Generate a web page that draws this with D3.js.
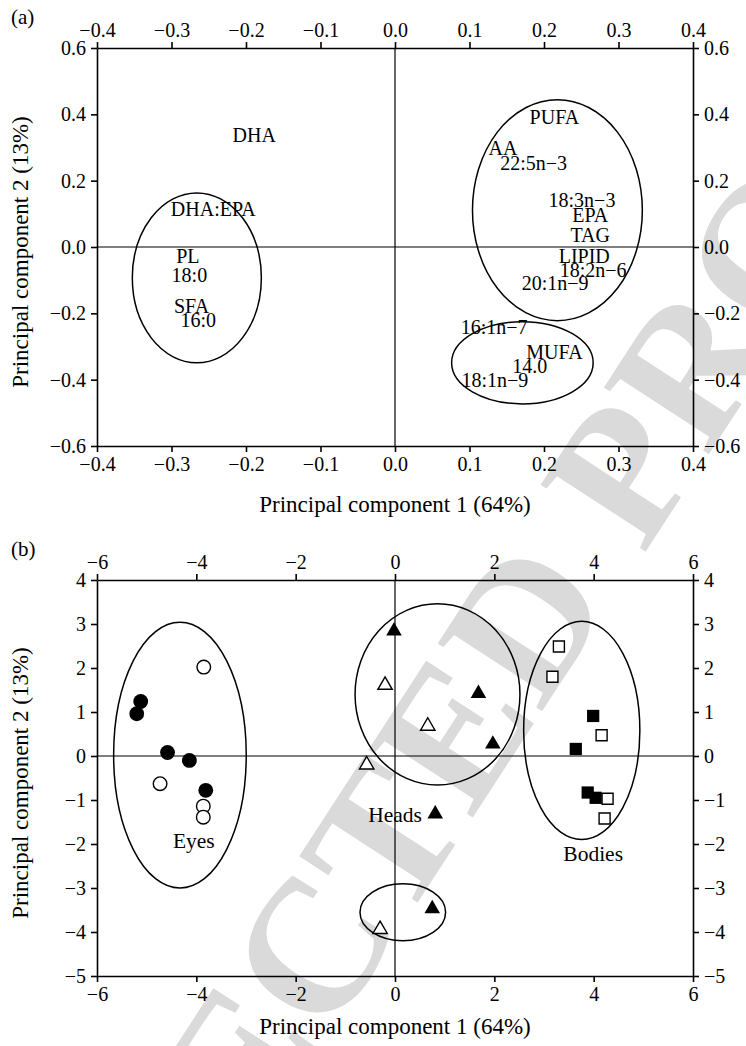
<!DOCTYPE html>
<html>
<head>
<meta charset="utf-8">
<script src="https://cdn.jsdelivr.net/npm/d3@7"></script>
<style>
  body { margin: 0; background: #fff; }
  text { font-family: "Liberation Serif", "Times New Roman", serif; }
</style>
</head>
<body>
<script>
// ---- data: panel (a) loadings ----
var ticksAX = [-0.4, -0.3, -0.2, -0.1, 0.0, 0.1, 0.2, 0.3, 0.4];
var ticksAY = [-0.6, -0.4, -0.2, 0.0, 0.2, 0.4, 0.6];
var labelsA = ["DHA", "DHA:EPA", "PL", "18:0", "SFA", "16:0",
    "PUFA", "AA", "22:5n\u22123", "18:3n\u22123", "EPA", "TAG", "LIPID",
    "18:2n\u22126", "20:1n\u22129", "16:1n\u22127", "MUFA", "14.0", "18:1n\u22129"];
var labelsAX = [-0.189, -0.244, -0.278, -0.276, -0.273, -0.264,
    0.214, 0.145, 0.186, 0.251, 0.262, 0.262, 0.254,
    0.266, 0.215, 0.133, 0.214, 0.181, 0.134];
var labelsAY = [0.316, 0.093, -0.047, -0.107, -0.198, -0.240,
    0.371, 0.278, 0.232, 0.122, 0.076, 0.016, -0.047,
    -0.090, -0.130, -0.263, -0.339, -0.381, -0.421];
// ellipses: [cx, cy, rx, ry] in data units
var ellipsesA = [[-0.266, -0.093, 0.0866, 0.256],
    [0.218, 0.111, 0.114, 0.333],
    [0.171, -0.349, 0.095, 0.124]];

// ---- data: panel (b) scores ----
var ticksBX = [-6, -4, -2, 0, 2, 4, 6];
var ticksBY = [-5, -4, -3, -2, -1, 0, 1, 2, 3, 4];
var eyesFilledX = [-5.12, -5.20, -4.58, -4.14, -3.81];
var eyesFilledY = [1.24, 0.96, 0.08, -0.10, -0.78];
var eyesOpenX = [-3.85, -4.73, -3.86, -3.86];
var eyesOpenY = [2.02, -0.63, -1.14, -1.39];
var headsFilledX = [-0.02, 1.68, 1.97, 0.81, 0.75];
var headsFilledY = [2.84, 1.42, 0.27, -1.32, -3.47];
var headsOpenX = [-0.20, 0.66, -0.57, -0.30];
var headsOpenY = [1.61, 0.68, -0.20, -3.94];
var bodiesFilledX = [3.99, 3.64, 3.88, 4.04];
var bodiesFilledY = [0.91, 0.16, -0.83, -0.95];
var bodiesOpenX = [3.30, 3.17, 4.16, 4.28, 4.22];
var bodiesOpenY = [2.49, 1.80, 0.47, -0.97, -1.42];
var ellipsesB = [[-4.33, 0.02, 1.335, 3.02],
    [0.856, 1.40, 1.66, 2.06],
    [3.76, 0.58, 1.17, 2.48],
    [0.157, -3.55, 0.862, 0.648]];
var groupNames = ["Eyes", "Heads", "Bodies"];
var groupNameX = [-4.05, 0.0, 3.99];
var groupNameY = [-2.1, -1.5, -2.39];

var width = 746,
    height = 1046;

var svg = d3.select("body").append("svg")
    .attr("width", width)
    .attr("height", height);

// watermark behind the plots
var wm = svg.append("g")
    .attr("transform", "translate(572,540) rotate(-57)")
    .style("font-family", "'Liberation Sans', Arial, sans-serif")
    .style("font-weight", "bold")
    .style("font-size", "190px")
    .style("fill", "#dadada");
wm.append("text").attr("x", -26).attr("y", 68).attr("text-anchor", "end").text("UNCORRECTED");
wm.append("text").attr("x", 26).attr("y", 68).attr("text-anchor", "start").text("PROOF");

var xA = d3.scaleLinear().domain([-0.4, 0.4]).range([97, 693]);
var yA = d3.scaleLinear().domain([-0.6, 0.6]).range([446, 48]);
var xB = d3.scaleLinear().domain([-6, 6]).range([97, 693]);
var yB = d3.scaleLinear().domain([-5, 4]).range([976, 580]);

function DrawFrame(x, y, tx, ty, fmt, titleY) {
    var g = svg.append("g");
    var top = y.range()[1], bottom = y.range()[0];
    var left = x.range()[0], right = x.range()[1];

    // zero lines
    g.append("line").attr("x1", x(0)).attr("x2", x(0)).attr("y1", top).attr("y2", bottom)
        .attr("stroke", "#000").attr("stroke-width", 1.2);
    g.append("line").attr("x1", left).attr("x2", right).attr("y1", y(0)).attr("y2", y(0))
        .attr("stroke", "#000").attr("stroke-width", 1.2);

    var axes = [
        [d3.axisTop(x).tickValues(tx), "translate(0," + top + ")"],
        [d3.axisBottom(x).tickValues(tx), "translate(0," + bottom + ")"],
        [d3.axisLeft(y).tickValues(ty), "translate(" + left + ",0)"],
        [d3.axisRight(y).tickValues(ty), "translate(" + right + ",0)"]
    ];
    axes.forEach(function (a) {
        var ax = g.append("g")
            .attr("transform", a[1])
            .call(a[0].tickFormat(fmt).tickSize(6).tickSizeOuter(0).tickPadding(5));
        ax.selectAll("path, line").attr("stroke", "#000").attr("stroke-width", 1.6);
        ax.selectAll("text").attr("fill", "#000")
            .style("font-family", "'Liberation Serif', 'Times New Roman', serif")
            .style("font-size", "20px");
    });

    g.append("text")
        .attr("x", (left + right) / 2)
        .attr("y", bottom + titleY)
        .attr("text-anchor", "middle")
        .style("font-size", "23px")
        .text("Principal component 1 (64%)");

    g.append("text")
        .attr("transform", "translate(28," + ((top + bottom) / 2 + 5) + ") rotate(-90)")
        .attr("text-anchor", "middle")
        .style("font-size", "23px")
        .text("Principal component 2 (13%)");
    return g;
}

function DrawEllipses(g, x, y, list) {
    g.selectAll(".ell")
        .data(list)
        .enter().append("ellipse")
        .attr("cx", function (d) { return x(d[0]); })
        .attr("cy", function (d) { return y(d[1]); })
        .attr("rx", function (d) { return x(d[0] + d[2]) - x(d[0]); })
        .attr("ry", function (d) { return y(d[1]) - y(d[1] + d[3]); })
        .attr("fill", "none")
        .attr("stroke", "#000")
        .attr("stroke-width", 1.5);
}

// ---- panel (a) ----
var ga = DrawFrame(xA, yA, ticksAX, ticksAY, d3.format(".1f"), 66);
svg.append("text").attr("x", 11).attr("y", 24).style("font-size", "21px").text("(a)");
DrawEllipses(ga, xA, yA, ellipsesA);

ga.selectAll(".lab")
    .data(labelsA)
    .enter().append("text")
    .attr("x", function (d, i) { return xA(labelsAX[i]); })
    .attr("y", function (d, i) { return yA(labelsAY[i]); })
    .attr("text-anchor", "middle")
    .style("font-size", "20px")
    .text(function (d) { return d; });

// ---- panel (b) ----
var gb = DrawFrame(xB, yB, ticksBX, ticksBY, d3.format("d"), 58);
svg.append("text").attr("x", 11).attr("y", 556).style("font-size", "21px").text("(b)");
DrawEllipses(gb, xB, yB, ellipsesB);

function Circles(xs, ys, filled) {
    gb.selectAll(null)
        .data(xs)
        .enter().append("circle")
        .attr("cx", function (d) { return xB(d); })
        .attr("cy", function (d, i) { return yB(ys[i]); })
        .attr("r", filled ? 7.4 : 6.8)
        .attr("fill", filled ? "#000" : "#fff")
        .attr("stroke", "#000")
        .attr("stroke-width", filled ? 0 : 1.4);
}

function Symbols(xs, ys, type, size, filled) {
    gb.selectAll(null)
        .data(xs)
        .enter().append("path")
        .attr("d", d3.symbol(type, size))
        .attr("transform", function (d, i) { return "translate(" + xB(d) + "," + yB(ys[i]) + ")"; })
        .attr("fill", filled ? "#000" : "#fff")
        .attr("stroke", "#000")
        .attr("stroke-width", filled ? 0 : 1.4);
}

Circles(eyesOpenX, eyesOpenY, false);
Circles(eyesFilledX, eyesFilledY, true);
Symbols(headsOpenX, headsOpenY, d3.symbolTriangle, 90, false);
Symbols(headsFilledX, headsFilledY, d3.symbolTriangle, 105, true);
Symbols(bodiesOpenX, bodiesOpenY, d3.symbolSquare, 121, false);
Symbols(bodiesFilledX, bodiesFilledY, d3.symbolSquare, 150, true);

gb.selectAll(".grp")
    .data(groupNames)
    .enter().append("text")
    .attr("x", function (d, i) { return xB(groupNameX[i]); })
    .attr("y", function (d, i) { return yB(groupNameY[i]); })
    .attr("text-anchor", "middle")
    .style("font-size", "21.5px")
    .text(function (d) { return d; });
</script>
</body>
</html>
